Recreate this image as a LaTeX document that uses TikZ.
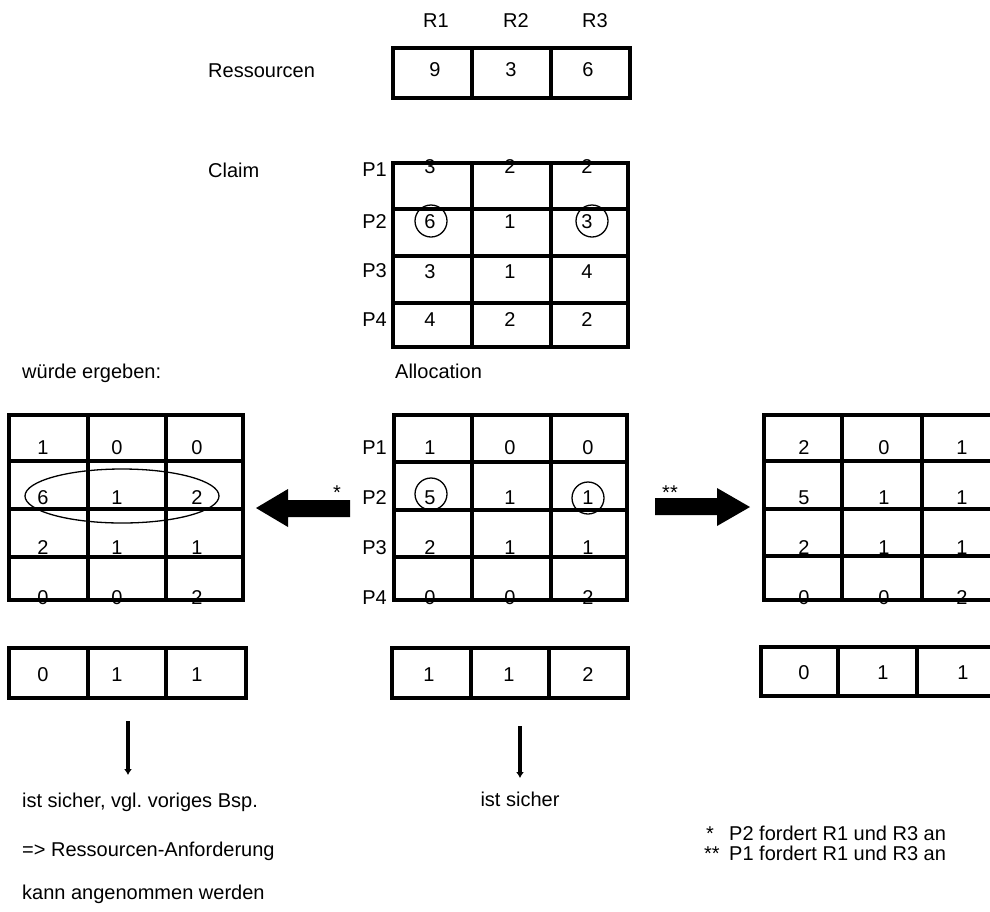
\documentclass[tikz,border=0pt]{standalone}
\usepackage{fontspec}
\setmainfont{Liberation Sans}
\usetikzlibrary{arrows.meta}
\frenchspacing
\newcommand\gridbox[6]{%
  \draw[gridln] (#1,#3) rectangle (#2,#4);
  \foreach \xx in {#5} {\draw[gridln] (\xx,#3) -- (\xx,#4);}
  \foreach \yy in {#6} {\draw[gridln] (#1,\yy) -- (#2,\yy);}
}
\newcommand\rowbox[5]{%
  \draw[gridln] (#1,#3) rectangle (#2,#4);
  \foreach \xx in {#5} {\draw[gridln] (\xx,#3) -- (\xx,#4);}
}
\begin{document}
\begin{tikzpicture}[x=1pt,y=-1pt,
  txt/.style={font=\fontsize{20}{23}\selectfont, inner sep=0pt},
  val/.style={txt, anchor=base},
  lbl/.style={txt, anchor=base west},
  plbl/.style={txt, anchor=base east},
  gridln/.style={line width=3.1pt},
  thinln/.style={line width=1.3pt},
  bigarrow/.style={fill=black, draw=none},
  downarrow/.style={line width=4pt, -{Latex[length=6pt,width=8pt]}}]
\useasboundingbox (0,0) rectangle (990,911);

% column headers
\node[val] (r1) at (436,27) {R1};
\node[val] (r2) at (516,27) {R2};
\node[val] (r3) at (595,27) {R3};

% Ressourcen
\node[lbl] (ress) at (208,77) {Ressourcen};
\node[val] (res1) at (435,76) {9};
\node[val] (res2) at (511,76) {3};
\node[val] (res3) at (588,76) {6};
\rowbox{393}{630}{48}{98}{472,551}

% Claim
\node[lbl] (claim) at (208,177) {Claim};
\foreach \p/\yb in {1/176,2/228,3/277,4/326} {\node[plbl] (cp\p) at (387,\yb) {P\p};}
\foreach \r/\yb/\a/\b/\c in {1/173/3/2/2, 2/228/6/1/3, 3/278/3/1/4, 4/326/4/2/2} {
  \node[val] (cl\r a) at (430,\yb) {\a};
  \node[val] (cl\r b) at (510,\yb) {\b};
  \node[val] (cl\r c) at (587,\yb) {\c};
}
\gridbox{393}{628}{163}{347}{472,551}{209,256,303}
\node[thinln, draw, circle, minimum size=32pt] (cc1) at (431,221) {};
\node[thinln, draw, circle, minimum size=32pt] (cc2) at (592,221) {};

% headings
\node[lbl] (wuerde) at (22,378) {würde ergeben:};
\node[lbl] (alloc) at (395,378) {Allocation};

% left matrix (result)
\foreach \r/\yb/\a/\b/\c in {1/454/1/0/0, 2/504/6/1/2, 3/554/2/1/1, 4/604/0/0/2} {
  \node[val] (lm\r a) at (43,\yb) {\a};
  \node[val] (lm\r b) at (117,\yb) {\b};
  \node[val] (lm\r c) at (197,\yb) {\c};
}
\gridbox{9}{243}{415}{600}{88,166}{461,509,557}
\draw[thinln] (122,496) ellipse [x radius=97, y radius=27];

% center allocation
\foreach \p/\yb in {1/454,2/504,3/554,4/604} {\node[plbl] (ap\p) at (387,\yb) {P\p};}
\foreach \r/\yb/\a/\b/\c in {1/454/1/0/0, 2/504/5/1/1, 3/554/2/1/1, 4/604/0/0/2} {
  \node[val] (am\r a) at (430,\yb) {\a};
  \node[val] (am\r b) at (510,\yb) {\b};
  \node[val] (am\r c) at (588,\yb) {\c};
}
\gridbox{394}{627}{415}{600}{472,551}{462,510,557}
\node[thinln, draw, circle, minimum size=32pt] (ac1) at (431,494) {};
\node[thinln, draw, circle, minimum size=32pt] (ac2) at (588,498) {};

% right matrix (result)
\foreach \r/\yb/\a/\b/\c in {1/454/2/0/1, 2/504/5/1/1, 3/554/2/1/1, 4/604/0/0/2} {
  \node[val] (rm\r a) at (804,\yb) {\a};
  \node[val] (rm\r b) at (884,\yb) {\b};
  \node[val] (rm\r c) at (962,\yb) {\c};
}
\gridbox{764}{1000}{415}{600}{842,922}{461,509,556}

% big arrows
\node[txt, anchor=center] (star1) at (337,493) {*};
\fill[bigarrow] (350,500) -- (288,500) -- (288,489) -- (256,508) -- (288,527) -- (288,517) -- (350,517) -- cycle;
\node[txt, anchor=center] (star2) at (670,493) {**};
\fill[bigarrow] (655,498) -- (717,498) -- (717,488) -- (750,507) -- (717,526) -- (717,515) -- (655,515) -- cycle;

% bottom vectors
\node[val] (bl1) at (43,681) {0};
\node[val] (bl2) at (117,681) {1};
\node[val] (bl3) at (197,681) {1};
\rowbox{9}{246}{648}{698}{88,166}
\node[val] (bc1) at (429,681) {1};
\node[val] (bc2) at (509,681) {1};
\node[val] (bc3) at (588,681) {2};
\rowbox{392}{628}{648}{698}{471,549}
\node[val] (br1) at (804,679) {0};
\node[val] (br2) at (883,679) {1};
\node[val] (br3) at (963,679) {1};
\rowbox{761}{996}{647}{696}{838,917}

% down arrows
\coordinate (da1s) at (128,721);
\coordinate (da1e) at (128,775);
\draw[downarrow] (da1s) -- (da1e);
\coordinate (da2s) at (520,726);
\coordinate (da2e) at (520,778);
\draw[downarrow] (da2s) -- (da2e);

% texts
\node[lbl] (t1) at (22,807) {ist sicher, vgl. voriges Bsp.};
\node[val] (t2) at (520,806) {ist sicher};
\node[lbl] (t3) at (22,856) {=> Ressourcen-Anforderung};
\node[lbl] (t4) at (22,899) {kann angenommen werden};
\node[txt, anchor=base west] (n1s) at (706,840) {*};
\node[lbl] (n1) at (729,840) {P2 fordert R1 und R3 an};
\node[txt, anchor=base west] (n2s) at (704,860) {**};
\node[lbl] (n2) at (729,860) {P1 fordert R1 und R3 an};
\end{tikzpicture}
\end{document}
